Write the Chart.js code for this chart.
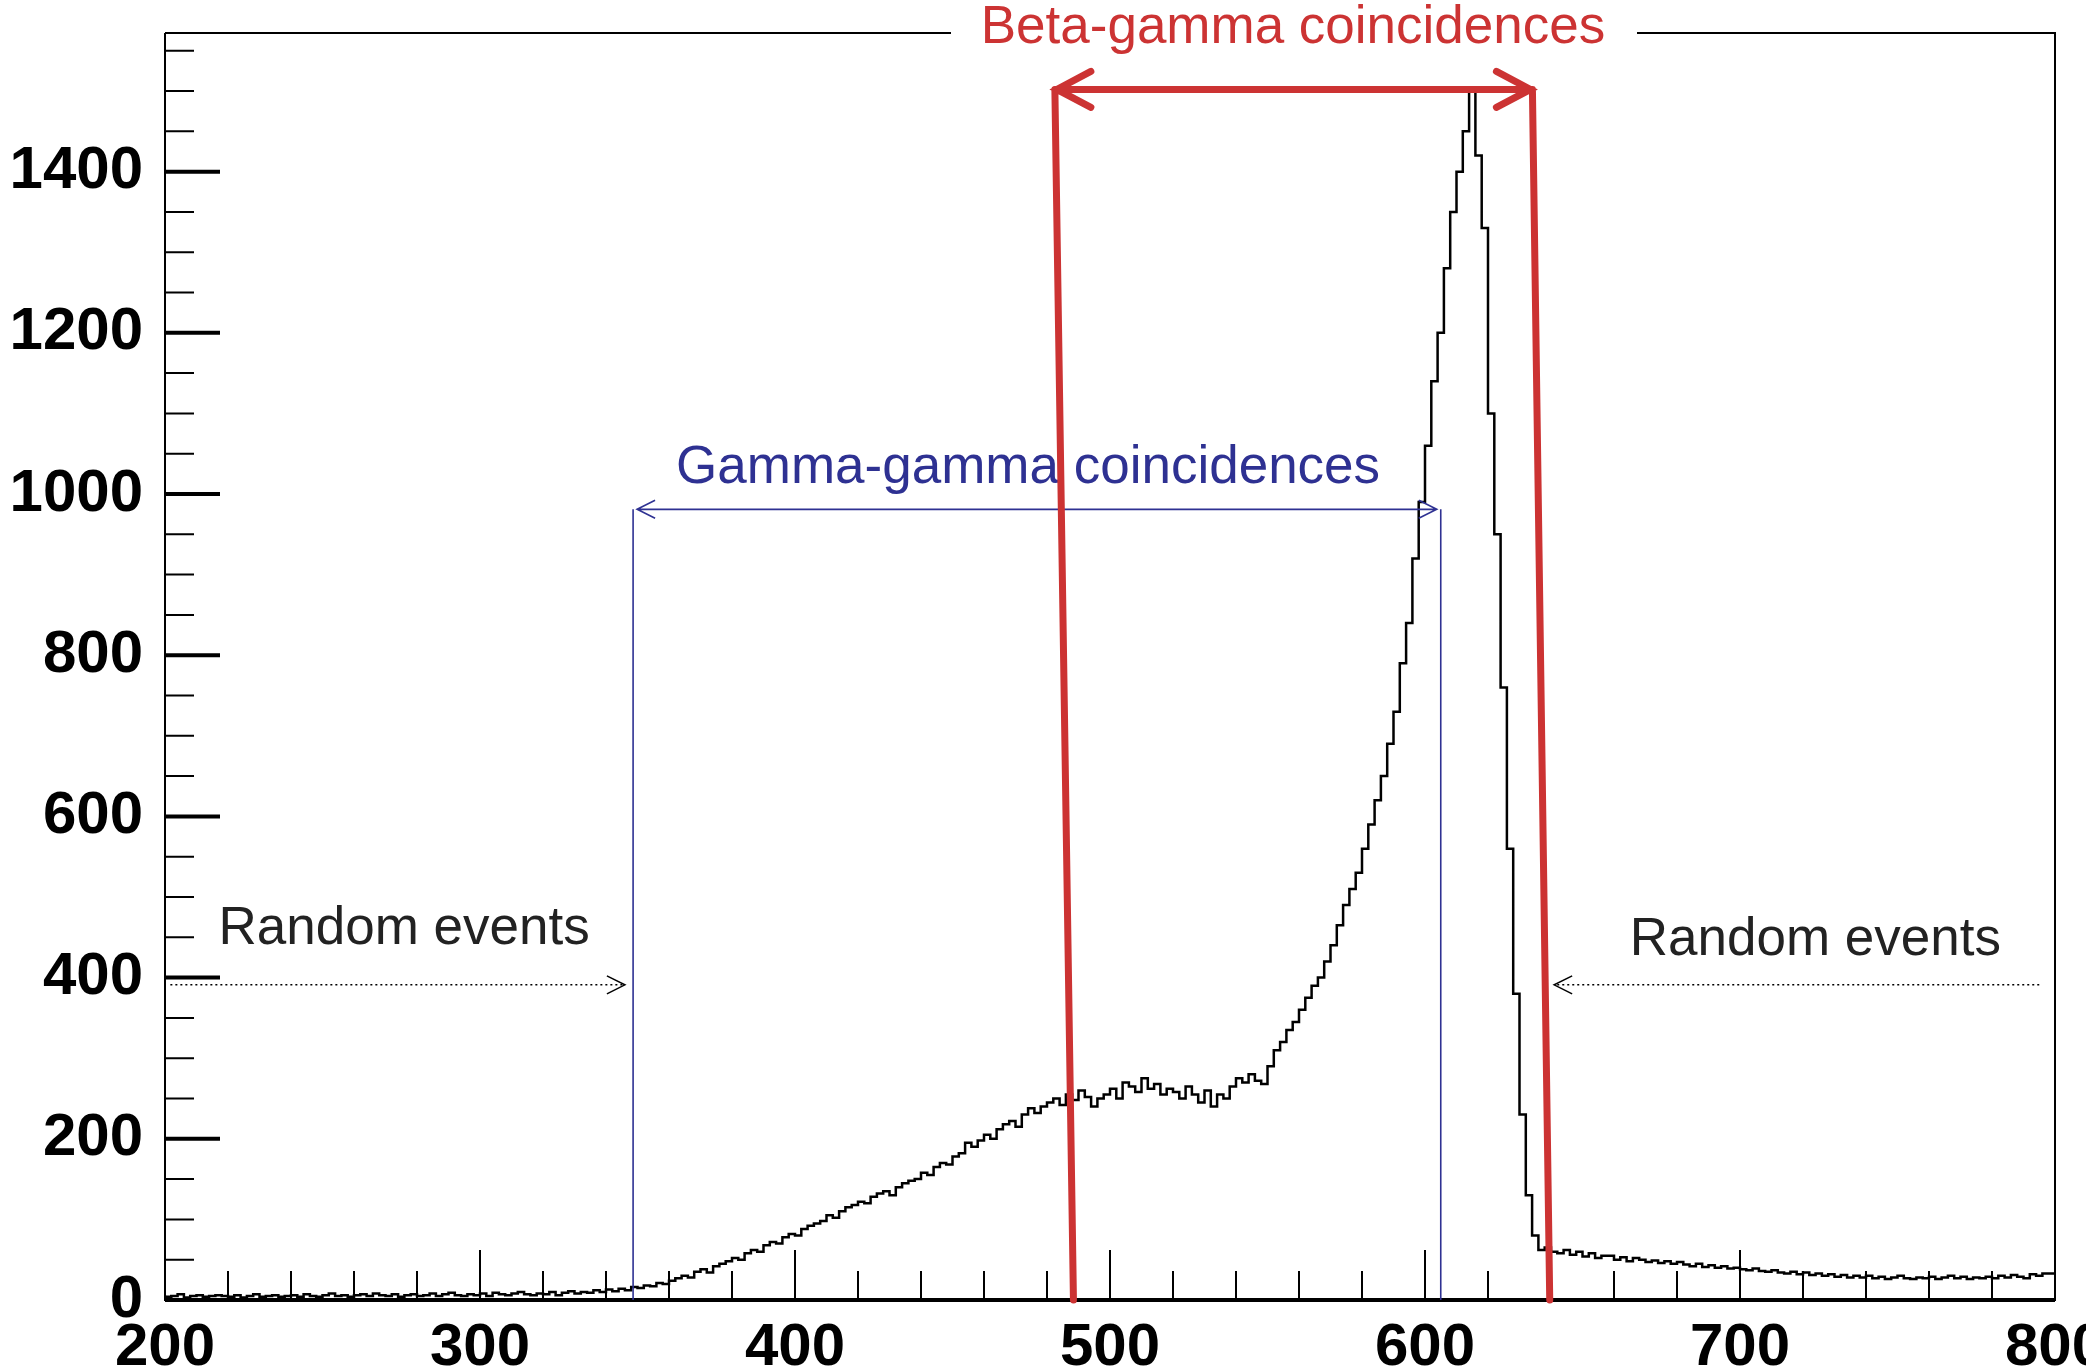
<!DOCTYPE html>
<html><head><meta charset="utf-8">
<script src="https://cdn.jsdelivr.net/npm/chart.js@4"></script>
<style>html,body{margin:0;padding:0;background:#fff}canvas{display:block}</style>
</head><body>
<div style="width:2086px;height:1371px"><canvas id="c" width="2086" height="1371"></canvas></div>
<script>
const binStart = 200, binWidth = 2;
const counts = [
6,4,5,7,3,5,6,4,5,6,
5,4,6,3,5,7,4,5,6,4,
5,6,4,7,5,4,6,8,5,6,
4,6,7,5,8,6,5,7,4,6,
7,5,6,8,5,7,9,6,5,7,
6,8,5,9,7,6,8,10,7,6,
8,7,10,6,9,11,8,10,9,12,
10,13,11,14,12,16,15,18,17,21,
20,24,27,30,28,35,38,34,42,45,
48,52,50,58,62,60,68,72,70,78,
82,80,88,92,95,98,105,102,110,115,
118,122,120,128,132,135,130,140,145,148,
150,158,155,165,170,168,178,182,195,190,
198,205,200,212,218,222,215,230,238,232,
240,245,250,242,255,248,260,252,240,250,
255,262,250,270,265,258,275,262,268,255,
262,258,250,265,255,245,260,240,255,250,
265,275,270,280,272,268,290,310,320,335,
345,360,375,390,400,420,440,465,490,510,
530,560,590,620,650,690,730,790,840,920,
990,1060,1140,1200,1280,1350,1400,1450,1500,1420,
1330,1100,950,760,560,380,230,130,80,62,
65,60,58,62,56,60,54,58,52,55,
55,50,53,48,52,50,47,49,46,48,
45,47,44,42,45,41,43,40,42,39,
40,38,37,39,36,35,37,34,33,35,
32,34,31,33,30,32,29,31,28,30,
28,30,27,29,26,28,30,27,26,28,
27,29,26,28,30,27,29,26,28,27,
29,27,30,28,31,29,27,32,30,33];
const xTicks = [200,300,400,500,600,700,800];
const yTicks = [0,200,400,600,800,1000,1200,1400];
const betaWindow = {top:[482.5,634.1], bottom:[488.4,639.6], y:1502};
const gammaWindow = {x:[348.6,605], y:981};
const randomLeft = {x:[201.7,346], y:391, label:[217,460]};
const randomRight = {x:[795,641], y:391, label:[665,446]};

const pts = counts.map((v,i)=>({x:binStart+i*binWidth,y:v}));
pts.push({x:800,y:counts[counts.length-1]});
const FONT = '"Liberation Sans", Arial, sans-serif';

const deco = {
  id:'deco',
  afterDatasetsDraw(chart){
    const {ctx, chartArea:a, scales:{x,y}} = chart;
    ctx.save();
    ctx.strokeStyle='#000'; ctx.lineWidth=2;
    ctx.beginPath();
    ctx.moveTo(a.left,a.top); ctx.lineTo(a.left,a.bottom); ctx.lineTo(a.right,a.bottom); ctx.lineTo(a.right,a.top);
    ctx.lineTo(1637,a.top); ctx.moveTo(951,a.top); ctx.lineTo(a.left,a.top);
    ctx.stroke();
    ctx.lineWidth=4; ctx.beginPath(); ctx.moveTo(a.left,a.bottom); ctx.lineTo(a.right,a.bottom); ctx.stroke();
    ctx.lineWidth=2; ctx.beginPath();
    for(let v=200; v<=800; v+=20){const px=x.getPixelForValue(v); const L=(v%100===0)?50:29; ctx.moveTo(px,a.bottom); ctx.lineTo(px,a.bottom-L);}
    for(let v=0; v<=1550; v+=50){const py=y.getPixelForValue(v); const L=(v%200===0)?55:29; ctx.moveTo(a.left,py); ctx.lineTo(a.left+L,py);}
    ctx.stroke();
    ctx.lineWidth=4; ctx.beginPath();
    for(const v of yTicks){const py=y.getPixelForValue(v); ctx.moveTo(a.left,py); ctx.lineTo(a.left+55,py);}
    ctx.stroke();
    ctx.strokeStyle='#2e3192'; ctx.fillStyle='#2e3192'; ctx.lineWidth=1.6;
    const gx0=x.getPixelForValue(gammaWindow.x[0]), gx1=x.getPixelForValue(gammaWindow.x[1]), gy=y.getPixelForValue(gammaWindow.y), gb=y.getPixelForValue(0);
    ctx.beginPath();
    ctx.moveTo(gx0,gb); ctx.lineTo(gx0,gy); ctx.moveTo(gx1,gb); ctx.lineTo(gx1,gy);
    ctx.moveTo(gx0+4,gy); ctx.lineTo(gx1-4,gy);
    ctx.moveTo(gx0+4+18,gy-9); ctx.lineTo(gx0+4,gy); ctx.lineTo(gx0+4+18,gy+9);
    ctx.moveTo(gx1-4-18,gy-9); ctx.lineTo(gx1-4,gy); ctx.lineTo(gx1-4-18,gy+9);
    ctx.stroke();
    ctx.font='53px '+FONT; ctx.textAlign='center'; ctx.textBaseline='middle';
    ctx.fillText('Gamma-gamma coincidences', x.getPixelForValue(474), y.getPixelForValue(1032));
    ctx.strokeStyle='#000'; ctx.fillStyle='#222'; ctx.lineWidth=1.5;
    for(const r of [randomLeft, randomRight]){
      const x0=x.getPixelForValue(r.x[0]), x1=x.getPixelForValue(r.x[1]), py=y.getPixelForValue(r.y);
      ctx.setLineDash([2,3]); ctx.beginPath(); ctx.moveTo(x0,py); ctx.lineTo(x1,py); ctx.stroke();
      ctx.setLineDash([]); const d=Math.sign(x1-x0);
      ctx.beginPath(); ctx.moveTo(x1-d*18,py-9); ctx.lineTo(x1,py); ctx.lineTo(x1-d*18,py+9); ctx.stroke();
      ctx.textAlign='left';
      ctx.fillText('Random events', x.getPixelForValue(r.label[0]), y.getPixelForValue(r.label[1]));
    }
    ctx.strokeStyle='#cc3333'; ctx.fillStyle='#cc3333'; ctx.lineWidth=7; ctx.lineCap='round';
    const by=y.getPixelForValue(betaWindow.y), bb=y.getPixelForValue(0);
    const t0=x.getPixelForValue(betaWindow.top[0]), t1=x.getPixelForValue(betaWindow.top[1]);
    ctx.beginPath();
    ctx.moveTo(t0,by); ctx.lineTo(x.getPixelForValue(betaWindow.bottom[0]),bb);
    ctx.moveTo(t1,by); ctx.lineTo(x.getPixelForValue(betaWindow.bottom[1]),bb);
    ctx.moveTo(t0,by); ctx.lineTo(t1,by);
    ctx.moveTo(t0+36,by-18); ctx.lineTo(t0+2,by); ctx.lineTo(t0+36,by+18);
    ctx.moveTo(t1-36,by-18); ctx.lineTo(t1-2,by); ctx.lineTo(t1-36,by+18);
    ctx.stroke();
    ctx.font='53px '+FONT; ctx.textAlign='center';
    ctx.fillText('Beta-gamma coincidences', 1293, 28);
    ctx.restore();
  }
};

new Chart(document.getElementById('c'), {
  type:'line',
  data:{datasets:[{data:pts, stepped:'after', borderColor:'#000', borderWidth:2.5, pointRadius:0, fill:false}]},
  options:{
    responsive:false, animation:false,
    layout:{padding:{left:0,right:31,top:33,bottom:0}},
    plugins:{legend:{display:false}, tooltip:{enabled:false}},
    scales:{
      x:{type:'linear', min:200, max:800,
        afterBuildTicks(s){s.ticks=xTicks.map(v=>({value:v}));},
        afterFit(s){s.height=71; s.paddingLeft=0; s.paddingRight=0;},
        grid:{display:false}, border:{display:false},
        ticks:{color:'#000', font:{family:FONT, size:60, weight:'bold'}, padding:4, maxRotation:0, autoSkip:false, callback:v=>String(v)}},
      y:{type:'linear', min:0, max:1572,
        afterBuildTicks(s){s.ticks=yTicks.map(v=>({value:v}));},
        afterFit(s){s.width=165; s.paddingTop=0; s.paddingBottom=0;},
        grid:{display:false}, border:{display:false},
        ticks:{color:'#000', font:{family:FONT, size:60, weight:'bold'}, padding:14, callback:v=>String(v)}}
    }
  },
  plugins:[deco]
});
</script></body></html>
